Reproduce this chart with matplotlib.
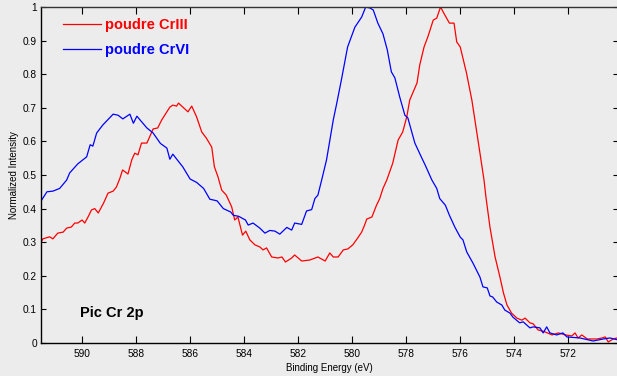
import matplotlib.pyplot as plt
from matplotlib.ticker import FixedLocator

# === Data (binding energy in eV, normalized intensity) ===
ev_cr6 = [591.50, 591.30, 591.08, 590.83, 590.57, 590.46, 590.16, 589.83, 589.70, 589.60,
          589.46, 589.23, 588.85, 588.67, 588.49, 588.23, 588.10, 587.97, 587.60, 587.37,
          587.10, 586.86, 586.75, 586.64, 586.27, 586.00, 585.76, 585.50, 585.27, 585.00,
          584.77, 584.50, 584.40, 584.20, 583.95, 583.85, 583.67, 583.42, 583.23, 583.05,
          582.86, 582.68, 582.42, 582.24, 582.13, 581.87, 581.69, 581.50, 581.38, 581.27,
          581.13, 580.95, 580.70, 580.57, 580.40, 580.17, 579.90, 579.65, 579.50, 579.34,
          579.22, 579.05, 578.86, 578.70, 578.55, 578.42, 578.24, 578.05, 577.94, 577.68,
          577.42, 577.30, 577.05, 576.87, 576.76, 576.55, 576.40, 576.20, 576.00, 575.90,
          575.76, 575.53, 575.27, 575.16, 575.00, 574.90, 574.80, 574.65, 574.46, 574.35,
          574.16, 574.05, 573.80, 573.67, 573.42, 573.30, 573.05, 572.93, 572.80, 572.68,
          572.43, 572.20, 572.05, 571.57, 571.08, 570.70, 570.46, 570.20]
int_cr6 = [0.425, 0.450, 0.452, 0.460, 0.485, 0.506, 0.533, 0.554, 0.590, 0.586,
           0.625, 0.649, 0.681, 0.678, 0.667, 0.681, 0.654, 0.675, 0.640, 0.625,
           0.594, 0.580, 0.547, 0.562, 0.524, 0.488, 0.478, 0.460, 0.428, 0.423,
           0.400, 0.390, 0.380, 0.377, 0.366, 0.351, 0.357, 0.342, 0.327, 0.335,
           0.333, 0.324, 0.344, 0.336, 0.357, 0.353, 0.393, 0.397, 0.430, 0.440,
           0.485, 0.545, 0.664, 0.714, 0.783, 0.881, 0.940, 0.970, 1.000, 0.997,
           0.991, 0.952, 0.920, 0.872, 0.807, 0.789, 0.732, 0.678, 0.670, 0.595,
           0.550, 0.530, 0.485, 0.460, 0.430, 0.410, 0.380, 0.345, 0.315, 0.307,
           0.271, 0.238, 0.196, 0.167, 0.164, 0.140, 0.137, 0.122, 0.113, 0.098,
           0.089, 0.077, 0.060, 0.063, 0.045, 0.048, 0.045, 0.030, 0.048, 0.030,
           0.024, 0.030, 0.018, 0.015, 0.006, 0.012, 0.015, 0.010]

ev_cr3 = [591.53, 591.45, 591.20, 591.08, 590.90, 590.70, 590.57, 590.40, 590.27, 590.16,
          590.00, 589.90, 589.78, 589.65, 589.53, 589.40, 589.20, 589.04, 588.85, 588.73,
          588.60, 588.50, 588.30, 588.16, 588.05, 587.93, 587.80, 587.60, 587.50, 587.37,
          587.20, 587.05, 586.94, 586.75, 586.64, 586.50, 586.43, 586.27, 586.08, 585.94,
          585.76, 585.57, 585.40, 585.20, 585.10, 584.97, 584.83, 584.66, 584.46, 584.35,
          584.23, 584.06, 583.94, 583.79, 583.60, 583.42, 583.30, 583.17, 582.98, 582.75,
          582.60, 582.47, 582.24, 582.13, 581.87, 581.57, 581.27, 581.00, 580.83, 580.70,
          580.52, 580.33, 580.16, 579.98, 579.80, 579.65, 579.54, 579.46, 579.27, 579.10,
          578.98, 578.86, 578.72, 578.50, 578.30, 578.13, 577.98, 577.87, 577.60, 577.50,
          577.34, 577.20, 577.00, 576.87, 576.73, 576.57, 576.40, 576.23, 576.13, 576.00,
          575.77, 575.57, 575.40, 575.27, 575.12, 575.05, 574.90, 574.71, 574.53, 574.40,
          574.27, 574.10, 573.90, 573.72, 573.60, 573.42, 573.30, 573.12, 572.86, 572.60,
          572.37, 572.10, 571.87, 571.75, 571.64, 571.50, 571.30, 570.93, 570.75, 570.63,
          570.52, 570.34, 570.20]
int_cr3 = [0.298, 0.310, 0.316, 0.310, 0.327, 0.330, 0.342, 0.345, 0.357, 0.357,
           0.366, 0.357, 0.375, 0.396, 0.400, 0.387, 0.417, 0.446, 0.452, 0.464,
           0.490, 0.515, 0.503, 0.545, 0.565, 0.560, 0.595, 0.595, 0.613, 0.637,
           0.640, 0.664, 0.678, 0.702, 0.708, 0.705, 0.714, 0.702, 0.688, 0.705,
           0.673, 0.628, 0.610, 0.583, 0.524, 0.495, 0.455, 0.440, 0.405, 0.366,
           0.375, 0.321, 0.333, 0.307, 0.292, 0.286, 0.277, 0.283, 0.256, 0.253,
           0.256, 0.241, 0.253, 0.262, 0.244, 0.247, 0.256, 0.244, 0.268, 0.256,
           0.256, 0.277, 0.280, 0.292, 0.312, 0.330, 0.351, 0.369, 0.375, 0.410,
           0.430, 0.460, 0.485, 0.535, 0.604, 0.628, 0.673, 0.723, 0.774, 0.827,
           0.881, 0.911, 0.961, 0.967, 1.000, 0.976, 0.952, 0.952, 0.896, 0.881,
           0.804, 0.723, 0.634, 0.565, 0.485, 0.435, 0.345, 0.256, 0.196, 0.149,
           0.113, 0.089, 0.074, 0.068, 0.074, 0.060, 0.057, 0.039, 0.033, 0.024,
           0.030, 0.024, 0.021, 0.030, 0.015, 0.024, 0.012, 0.012, 0.015, 0.018,
           0.003, 0.012, 0.015]

x_ticks = [590, 588, 586, 584, 582, 580, 578, 576, 574, 572]
y_ticks = [0, 0.1, 0.2, 0.3, 0.4, 0.5, 0.6, 0.7, 0.8, 0.9, 1]
y_tick_labels = ['0', '0.1', '0.2', '0.3', '0.4', '0.5', '0.6', '0.7', '0.8', '0.9', '1']

BG = '#ececec'
plt.rcParams['font.family'] = ['Liberation Sans', 'DejaVu Sans']

fig = plt.figure(figsize=(6.17, 3.76), dpi=100, facecolor=BG)
ax = fig.add_axes([41 / 617, 1 - 343 / 376, 577 / 617, 336 / 376])
ax.set_facecolor(BG)

ax.plot(ev_cr3, int_cr3, color='#ff0000', lw=0.9, label='poudre CrIII')
ax.plot(ev_cr6, int_cr6, color='#0000ff', lw=0.9, label='poudre CrVI')

ax.set_xlim(591.52, 570.16)
ax.set_ylim(0, 1)
ax.xaxis.set_major_locator(FixedLocator(x_ticks))
ax.set_yticks(y_ticks)
ax.set_yticklabels(y_tick_labels)
ax.tick_params(axis='both', direction='in', labelsize=7.3, top=True, right=True,
               width=0.8)
ax.tick_params(axis='x', length=5, pad=4)
ax.tick_params(axis='y', length=3.5, pad=3)
for side in ['left', 'bottom', 'top', 'right']:
    ax.spines[side].set_linewidth(1.0)
ax.spines['top'].set_color('#333333')

ax.set_xlabel('Binding Energy (eV)', fontsize=7, labelpad=3)
ax.set_ylabel('Normalized Intensity', fontsize=7, labelpad=3)

leg = ax.legend(loc='upper left', frameon=False, labelcolor='linecolor',
                prop={'weight': 'bold', 'size': 10.5}, handlelength=2.6,
                handletextpad=0.3, labelspacing=0.75,
                bbox_to_anchor=(0.015, 1.007))

ax.text(0.068, 0.078, 'Pic Cr 2p', transform=ax.transAxes, fontsize=10.5,
        fontweight='bold', color='black')

plt.savefig('out.png', dpi=100, facecolor=BG)
plt.close()
